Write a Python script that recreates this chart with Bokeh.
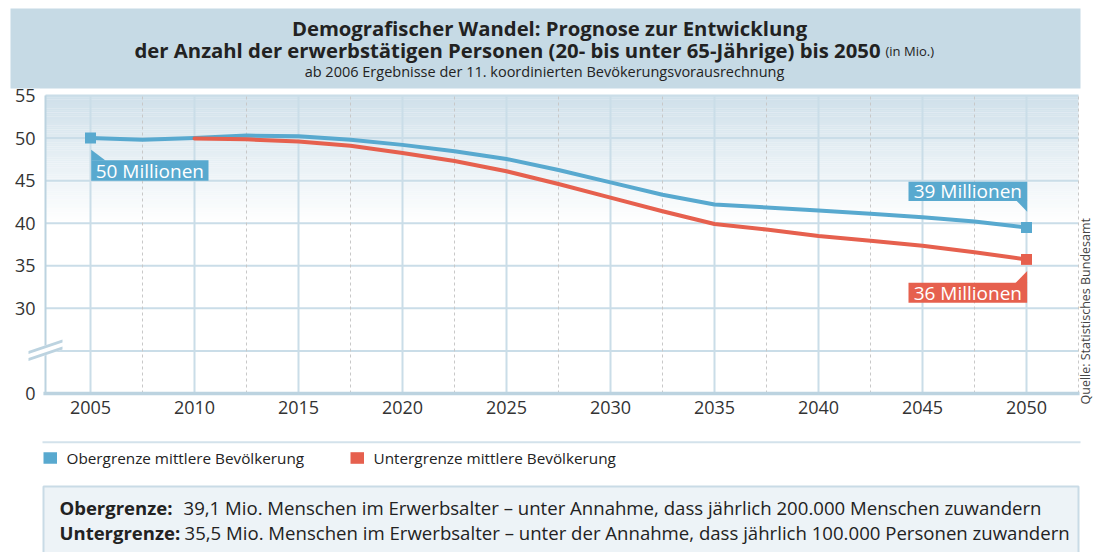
import numpy as np
from bokeh.plotting import figure
from bokeh.models import Range1d, FixedTicker, LinearAxis
from bokeh.core.properties import value
from bokeh.embed import file_html
from bokeh.resources import INLINE

# ---------------- data ----------------
years_upper = [2005, 2007.5, 2010, 2012.5, 2015, 2017.5, 2020, 2022.5, 2025, 2027.5,
               2030, 2032.5, 2035, 2037.5, 2040, 2042.5, 2045, 2047.5, 2050]
upper = [50.0, 49.8, 50.0, 50.3, 50.2, 49.8, 49.2, 48.45, 47.55, 46.25,
         44.8, 43.35, 42.2, 41.85, 41.5, 41.1, 40.7, 40.2, 39.5]
years_lower = [2010, 2012.5, 2015, 2017.5, 2020, 2022.5, 2025, 2027.5,
               2030, 2032.5, 2035, 2037.5, 2040, 2042.5, 2045, 2047.5, 2050]
lower = [49.95, 49.85, 49.6, 49.1, 48.25, 47.3, 46.1, 44.6,
         43.0, 41.4, 39.9, 39.25, 38.5, 37.95, 37.35, 36.6, 35.75]
x_ticks = [2005, 2010, 2015, 2020, 2025, 2030, 2035, 2040, 2045, 2050]
x_minor = [2007.5, 2012.5, 2017.5, 2022.5, 2027.5, 2032.5, 2037.5, 2042.5, 2047.5, 2052.5]
# the value axis is broken: the internal value 20 stands for 0
y_ticks = [20, 30, 35, 40, 45, 50, 55]
y_tick_labels = {20: "0", 30: "30", 35: "35", 40: "40", 45: "45", 50: "50", 55: "55"}
y_grid = [25, 30, 35, 40, 45, 50, 55]
series_names = ["Obergrenze mittlere Bevölkerung", "Untergrenze mittlere Bevölkerung"]
label_start = "50 Millionen"
label_upper = "39 Millionen"
label_lower = "36 Millionen"

title1 = "Demografischer Wandel: Prognose zur Entwicklung"
title2 = "der Anzahl der erwerbstätigen Personen (20- bis unter 65-Jährige) bis 2050"
title2_small = "(in Mio.)"
subtitle = "ab 2006 Ergebnisse der 11. koordinierten Bevökerungsvorausrechnung"
source = "Quelle: Statistisches Bundesamt"
note_heads = ["Obergrenze:", "Untergrenze:"]
note_texts = ["39,1 Mio. Menschen im Erwerbsalter – unter Annahme, dass jährlich 200.000 Menschen zuwandern",
              "35,5 Mio. Menschen im Erwerbsalter – unter der Annahme, dass jährlich 100.000 Personen zuwandern"]

# ---------------- style ----------------
BLUE = "#58a9cf"
RED = "#e6604e"
HDR = "#c6dae5"
GRID = "#cadde8"
AXIS = "#bcd3e0"
DARK = "#222222"
FONT = "Open Sans"
W, H = 1095, 552

# geometry: page pixels <-> data
SX = 20.8                 # px per year
SY = 298 / 35             # px per value unit
XS = 2005 - 90 / SX
XE = XS + W / SX
YT = 55 + 95 / SY
YB = YT - H / SY
X_LEFT = XS + 45 / SX     # left edge of the plotting area
X_RIGHT = 2052.5          # right edge of the plotting area
Y_BOT, Y_TOP = 20, 55


def P(px, py):
    return XS + px / SX, YT - py / SY


p = figure(width=W, height=H, x_range=Range1d(XS, XE), y_range=Range1d(YB, YT),
           output_backend="svg", toolbar_location=None, min_border=0,
           x_axis_location=None, y_axis_location=None)
p.grid.visible = False
p.outline_line_color = None
p.background_fill_color = "white"
p.border_fill_color = "white"


def ptext(px, py, txt, size, align="left", baseline="middle", bold=False, color=DARK, angle=0):
    x, y = P(px, py)
    p.text(x=[x], y=[y], text=[txt], text_align=align, text_baseline=baseline, angle=angle,
           text_font=value(FONT), text_font_size=size, text_color=color,
           text_font_style="bold" if bold else "normal")


def pquad(l, r, t, b, **kw):
    x0, y0 = P(l, t)
    x1, y1 = P(r, b)
    p.quad(left=[x0], right=[x1], top=[y0], bottom=[y1], **kw)


def ppatch(pts, color):
    xs, ys = zip(*[P(a, b) for a, b in pts])
    p.patch(list(xs), list(ys), fill_color=color, line_color=None)


# ---------------- header ----------------
pquad(10, 1080, 8, 88, fill_color=HDR, line_color=None)
ptext(549, 27, title1, "20.3px", align="center", bold=True)
ptext(880, 49, title2, "20.3px", align="right", bold=True)
ptext(885, 50, title2_small, "13px", align="left")
ptext(544, 71, subtitle, "14.5px", align="center")

# ---------------- plotting area ----------------
top_c = np.array([0xcf, 0xe0, 0xea], dtype=float)
bot_c = np.array([0xff, 0xff, 0xff], dtype=float)
edges = np.linspace(40, 55, 61)
cols = []
for i in range(60):
    f = ((edges[i] + edges[i + 1]) / 2 - 40) / 15
    c = bot_c + (top_c - bot_c) * f
    cols.append("#%02x%02x%02x" % tuple(int(round(v)) for v in c))
g = p.quad(left=X_LEFT, right=X_RIGHT, bottom=edges[:-1], top=edges[1:] + 0.01,
           fill_color=cols, line_color=None)
g.level = "image"

p.segment(x0=[X_LEFT] * len(y_grid), x1=[X_RIGHT] * len(y_grid), y0=y_grid, y1=y_grid,
          line_color=GRID, line_width=2)
p.segment(x0=x_ticks, x1=x_ticks, y0=[Y_BOT] * len(x_ticks), y1=[Y_TOP] * len(x_ticks),
          line_color=GRID, line_width=2)
p.segment(x0=x_minor, x1=x_minor, y0=[Y_BOT] * len(x_minor), y1=[Y_TOP] * len(x_minor),
          line_color="#c8c8c8", line_width=1, line_dash="3 3")
p.segment(x0=[X_LEFT], x1=[X_LEFT], y0=[Y_BOT], y1=[Y_TOP], line_color=AXIS, line_width=2)
p.segment(x0=[X_LEFT - 0.1], x1=[X_RIGHT + 0.05], y0=[Y_BOT], y1=[Y_BOT], line_color=AXIS, line_width=3.5)

# axis-break marks
ppatch([(28, 350.5), (62, 339), (62, 349), (28, 360.5)], "white")
ppatch([(28, 350.5), (62, 339), (62, 342), (28, 353.5)], AXIS)
ppatch([(28, 357.5), (62, 346), (62, 349), (28, 360.5)], AXIS)

# data
p.line(years_upper, upper, line_color=BLUE, line_width=4, line_join="round", line_cap="round")
p.line(years_lower, lower, line_color=RED, line_width=4, line_join="round", line_cap="round")
p.scatter([years_upper[0], years_upper[-1]], [upper[0], upper[-1]], marker="square", size=11,
          fill_color=BLUE, line_color=None)
p.scatter([years_lower[-1]], [lower[-1]], marker="square", size=11, fill_color=RED, line_color=None)


def callout(xd, yd, box, tail, text, color):
    # offsets in px from the data point, dy positive downward
    dx0, dx1, dt, db = box
    p.quad(left=[xd + dx0 / SX], right=[xd + dx1 / SX], top=[yd - dt / SY], bottom=[yd - db / SY],
           fill_color=color, line_color=None)
    p.patch([xd + a / SX for a, b in tail], [yd - b / SY for a, b in tail], fill_color=color, line_color=None)
    p.text(x=[xd + (dx0 + dx1) / 2 / SX], y=[yd - (dt + db) / 2 / SY], text=[text],
           text_align="center", text_baseline="middle", text_font=value(FONT),
           text_font_size="19px", text_color="white")


callout(years_upper[0], upper[0], (0.7, 118, 22.3, 42.8), [(0.7, 11.6), (0.7, 22.5), (15, 22.5)],
        label_start, BLUE)
callout(years_upper[-1], upper[-1], (-118, 0.7, -45.7, -26.5), [(-10, -26.7), (0.7, -26.7), (0.7, -15.7)],
        label_upper, BLUE)
callout(years_lower[-1], lower[-1], (-118, 0.7, 23.4, 43.4), [(0.7, 11.7), (0.7, 23.6), (-11, 23.6)],
        label_lower, RED)

# axes (placed at fixed data positions inside the canvas)
xaxis = LinearAxis(ticker=FixedTicker(ticks=x_ticks), fixed_location=Y_BOT)
yaxis = LinearAxis(ticker=FixedTicker(ticks=y_ticks), fixed_location=X_LEFT,
                   major_label_overrides=y_tick_labels)
for ax in (xaxis, yaxis):
    ax.axis_line_color = None
    ax.major_tick_line_color = None
    ax.minor_tick_line_color = None
    ax.major_tick_in = 0
    ax.major_tick_out = 0
    ax.major_label_text_font = FONT
    ax.major_label_text_font_size = "18px"
    ax.major_label_text_color = "#333333"
xaxis.major_label_standoff = 7
yaxis.major_label_standoff = 10
p.add_layout(xaxis, "below")
p.add_layout(yaxis, "left")

# source, rotated
ptext(1093, 404, source, "12.5px", align="left", baseline="bottom", color="#444444", angle=np.pi / 2)

# ---------------- legend & notes ----------------
x0, y0 = P(42, 441.7)
x1, _ = P(1080, 441.7)
p.segment(x0=[x0], x1=[x1], y0=[y0], y1=[y0], line_color="#d3e2eb", line_width=2)
pquad(43, 56.5, 451.7, 463.3, fill_color=BLUE, line_color=None)
pquad(350, 363.5, 451.7, 463.3, fill_color=RED, line_color=None)
ptext(66, 457.5, series_names[0], "15.3px")
ptext(373, 457.5, series_names[1], "15.3px")
pquad(43, 1078, 486, 600, fill_color="#edf3f7", line_color="#c9dbe6", line_width=2)
ptext(59, 507, note_heads[0], "18.5px", bold=True)
ptext(59, 532, note_heads[1], "18.5px", bold=True)
ptext(183, 507, note_texts[0], "18.6px")
ptext(184, 532, note_texts[1], "18.6px")

open("out.html", "w").write(file_html(p, INLINE))
